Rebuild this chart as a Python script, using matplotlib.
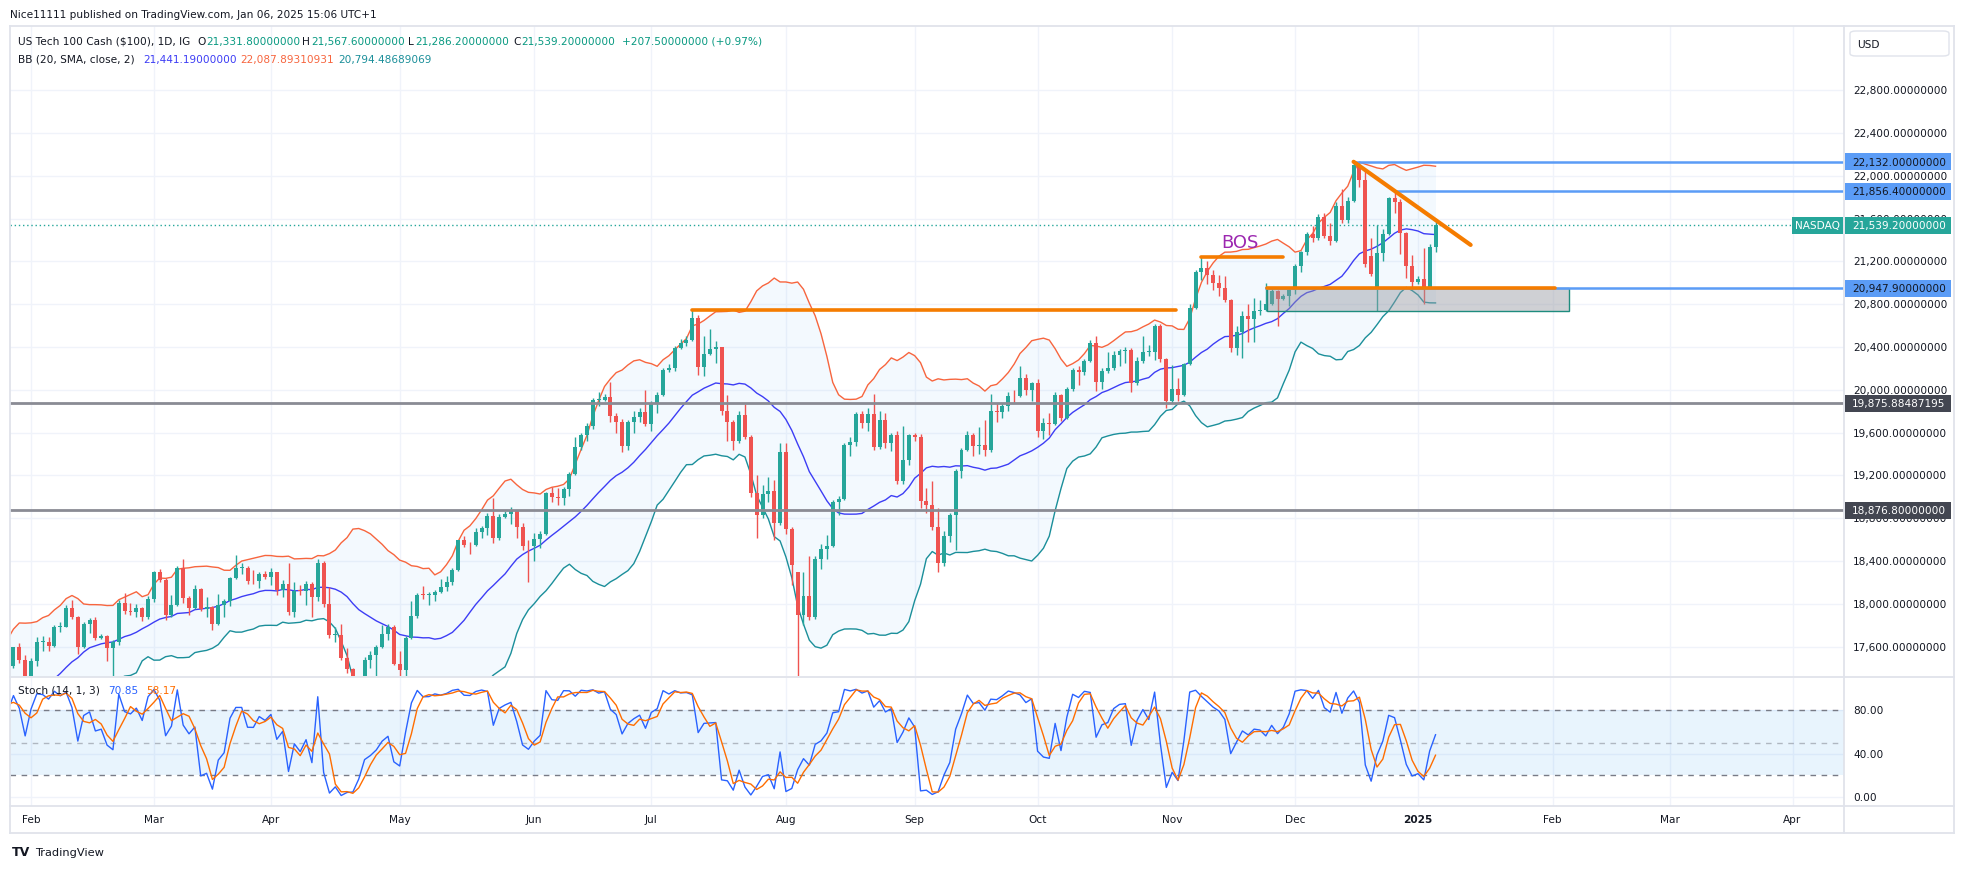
import numpy as np
import pandas as pd
import matplotlib
matplotlib.use('Agg')
import matplotlib.pyplot as plt
from matplotlib.patches import Rectangle, FancyBboxPatch
from matplotlib.lines import Line2D

plt.rcParams['font.family'] = ['DejaVu Sans']

# daily bars, US Tech 100 Cash (IG), 26 Dec 2023 .. 06 Jan 2025
closed_days = ['2024-03-29', '2024-12-25']
dates = pd.bdate_range('2023-12-26', '2025-01-06')
dates = dates[~dates.isin(pd.to_datetime(closed_days))]

opens = [
    16790, 16878, 16906, 16898,
    16826, 16800, 16543, 16368, 16283, 16330, 16624, 16663, 16792, 16822, 16832, 16845, 16838, 16745, 17048, 17314, 17329, 17384, 17499, 17518, 17421, 17596, 17477,
    17220, 17470, 17642, 17643, 17608, 17782, 17784, 17963, 17882, 17600, 17815, 17845, 17685, 17700, 17592, 17640, 18004, 17937, 17921, 17962, 17874,
    18043, 18302, 18224, 17896, 17985, 18339, 18054, 17966, 18137, 17953, 17967, 17808, 17985, 18030, 18240, 18339, 18339, 18211, 18210, 18280,
    18255, 18294, 18133, 18184, 17925, 18124, 18123, 18187, 18064, 18380, 18003, 17707, 17713, 17493, 17395, 17037, 17210, 17471, 17526, 17600, 17718, 17783,
    17441, 17380, 17680, 17891, 18082, 18080, 18083, 18114, 18161, 18208, 18321, 18593, 18550, 18547, 18674, 18713, 18820, 18612, 18808, 18840, 18869, 18720, 18538,
    18537, 18608, 18650, 19035, 19000, 18994, 19074, 19210, 19466, 19580, 19659, 19903, 19908, 19930, 19752, 19700, 19473, 19701, 19751, 19789,
    19683, 19880, 19950, 20186, 20200, 20392, 20439, 20462, 20675, 20211, 20331, 20386, 20397, 19799, 19704, 19523, 19765, 19560, 19033, 18830, 19024, 19059, 18760,
    19420, 18700, 18300, 17895, 18077, 17880, 18420, 18513, 18545, 18956, 18980, 19484, 19509, 19776, 19690, 19775, 19465, 19721, 19507, 19574, 19150, 19343,
    19575, 19560, 18960, 18920, 18720, 18380, 18637, 18829, 19239, 19439, 19580, 19475, 19486, 19438, 19800, 19792, 19852, 19944, 19939, 20113, 20000,
    20060, 19620, 19690, 19680, 19951, 19740, 20010, 20185, 20165, 20272, 20438, 20070, 20180, 20200, 20324, 20361, 20373, 20066, 20270, 20352, 20352, 20600, 20290,
    19900, 20010, 19950, 20240, 20770, 21102, 21140, 21070, 21000, 20950, 20840, 20395, 20545, 20690, 20660, 20740, 20744, 20800, 20922, 20850, 20880,
    20930, 21160, 21290, 21460, 21420, 21620, 21440, 21390, 21720, 21590, 21770, 22100, 21960, 21250, 20950, 21280, 21460, 21790, 21760, 21470, 21160,
    21010, 21040, 20960, 21331.8,
]
highs = [
    16904, 16930, 16945, 16935,
    16860, 16820, 16560, 16480, 16420, 16630, 16690, 16810, 16900, 16900, 16870, 16880, 16850, 17060, 17330, 17420, 17410, 17660, 17580, 17540, 17600, 17630, 17520,
    17490, 17690, 17700, 17690, 17800, 17830, 17990, 18040, 17890, 17830, 17870, 17880, 17720, 17710, 17660, 18040, 18100, 18010, 18000, 17970, 18070,
    18310, 18330, 18240, 18080, 18350, 18420, 18070, 18180, 18150, 18060, 17980, 18090, 18050, 18250, 18460, 18380, 18350, 18320, 18300, 18310,
    18340, 18300, 18220, 18380, 18200, 18180, 18210, 18200, 18420, 18400, 18160, 17780, 17810, 17590, 17400, 17310, 17500, 17560, 17620, 17800, 17810, 17800,
    17560, 17700, 18030, 18100, 18170, 18110, 18130, 18230, 18260, 18340, 18600, 18630, 18580, 18710, 18730, 18850, 18990, 18840, 18870, 18910, 18880, 18760, 18600,
    18660, 18680, 19050, 19090, 19080, 19090, 19230, 19560, 19600, 19690, 19920, 19980, 19960, 20070, 19780, 19730, 19720, 19800, 19830, 20000,
    19900, 19980, 20200, 20240, 20410, 20480, 20500, 20750, 20700, 20500, 20570, 20460, 20400, 19950, 19720, 19800, 19870, 19580, 19200, 19110, 19190, 19160, 19500,
    19500, 18720, 18300, 18300, 18450, 18450, 18560, 18640, 18970, 19010, 19500, 19560, 19790, 19800, 19830, 19960, 19800, 19780, 19600, 19620, 19660, 19590,
    19600, 19590, 19080, 19150, 18900, 18680, 18850, 19260, 19460, 19620, 19600, 19650, 19720, 19960, 19880, 19880, 19980, 20000, 20220, 20150, 20070,
    20100, 19740, 19780, 19980, 19960, 20030, 20200, 20220, 20290, 20470, 20500, 20200, 20350, 20360, 20380, 20400, 20390, 20310, 20500, 20420, 20620, 20620, 20300,
    20230, 20110, 20250, 20800, 21120, 21240, 21200, 21120, 21070, 21060, 20850, 20600, 20740, 20800, 20860, 20840, 21000, 20960, 20930, 20900, 20960,
    21180, 21300, 21480, 21530, 21640, 21650, 21560, 21760, 21880, 21800, 22132, 22130, 22060, 21420, 21540, 21500, 21800, 21856.4, 21780, 21480, 21260,
    21060, 21330, 21360, 21567.6,
]
lows = [
    16784, 16840, 16870, 16760,
    16815, 16480, 16350, 16270, 16240, 16310, 16520, 16650, 16700, 16790, 16820, 16740, 16650, 16740, 17040, 17280, 17300, 17380, 17420, 17400, 17400, 17450, 17130,
    17180, 17420, 17560, 17560, 17600, 17740, 17780, 17860, 17530, 17590, 17730, 17660, 17670, 17470, 17330, 17620, 17910, 17900, 17880, 17840, 17860,
    18020, 18200, 17850, 17880, 17980, 18010, 17900, 17950, 17930, 17880, 17760, 17800, 17880, 17980, 18230, 18280, 18190, 18190, 18150, 18230,
    18180, 18080, 18060, 17900, 17880, 18080, 17990, 17880, 18030, 17970, 17680, 17640, 17480, 17350, 16970, 17000, 17200, 17400, 17070, 17590, 17660, 17430,
    17300, 17330, 17670, 17870, 18050, 17990, 18030, 18100, 18120, 18180, 18310, 18530, 18470, 18540, 18620, 18640, 18570, 18600, 18800, 18750, 18620, 18500, 18200,
    18400, 18520, 18640, 18950, 18920, 18920, 19010, 19200, 19440, 19520, 19630, 19850, 19900, 19700, 19600, 19420, 19440, 19600, 19700, 19660,
    19620, 19780, 19940, 20170, 20180, 20380, 20410, 20460, 20140, 20130, 20330, 20250, 19770, 19520, 19440, 19500, 19540, 19000, 18620, 18800, 18950, 18600, 18740,
    18650, 18180, 17050, 17800, 17850, 17860, 18330, 18420, 18530, 18830, 18970, 19380, 19480, 19640, 19620, 19440, 19450, 19460, 19430, 19120, 19120, 19300,
    19520, 18900, 18850, 18690, 18300, 18350, 18580, 18500, 19180, 19430, 19380, 19400, 19380, 19420, 19700, 19740, 19800, 19880, 19930, 19950, 19900,
    19560, 19540, 19580, 19670, 19710, 19730, 19990, 20050, 20140, 20260, 19990, 20010, 20160, 20190, 20220, 20250, 19980, 20050, 20250, 20320, 20280, 20260, 19830,
    19880, 19900, 19940, 20230, 20760, 21030, 20990, 20930, 20880, 20820, 20350, 20330, 20300, 20450, 20450, 20700, 20740, 20790, 20600, 20840, 20780,
    20900, 21100, 21260, 21380, 21400, 21420, 21350, 21380, 21560, 21560, 21760, 21900, 21150, 21060, 20740, 21200, 21450, 21650, 21270, 21050, 20950,
    20990, 20800, 20950, 21286.2,
]
closes = [
    16878, 16906, 16898, 16826,
    16850, 16543, 16368, 16283, 16306, 16624, 16663, 16792, 16822, 16832, 16845, 16838, 16745, 17048, 17314, 17329, 17384, 17499, 17518, 17421, 17596, 17477, 17220,
    17470, 17642, 17643, 17608, 17782, 17784, 17963, 17882, 17600, 17815, 17845, 17685, 17700, 17592, 17640, 18004, 17937, 17921, 17962, 17874, 18043,
    18302, 18224, 17896, 17985, 18339, 18054, 17966, 18137, 17953, 17967, 17808, 17985, 18030, 18240, 18339, 18339, 18211, 18210, 18280, 18255,
    18294, 18133, 18184, 17925, 18124, 18123, 18187, 18064, 18380, 18003, 17707, 17713, 17493, 17395, 17037, 17210, 17471, 17526, 17600, 17718, 17783, 17441,
    17380, 17680, 17891, 18082, 18080, 18083, 18114, 18161, 18208, 18321, 18593, 18550, 18547, 18674, 18713, 18820, 18612, 18808, 18840, 18869, 18720, 18538, 18537,
    18608, 18650, 19035, 19000, 18994, 19074, 19210, 19466, 19580, 19659, 19903, 19908, 19930, 19752, 19700, 19473, 19701, 19751, 19789, 19683,
    19880, 19950, 20186, 20200, 20392, 20439, 20462, 20675, 20211, 20331, 20386, 20397, 19799, 19704, 19523, 19765, 19560, 19033, 18830, 19024, 19059, 18760, 19420,
    18700, 18360, 17895, 18077, 17880, 18420, 18513, 18545, 18956, 18980, 19484, 19509, 19776, 19690, 19775, 19465, 19721, 19507, 19574, 19150, 19343, 19575,
    19560, 18960, 18920, 18720, 18380, 18637, 18829, 19239, 19439, 19580, 19475, 19486, 19438, 19800, 19792, 19852, 19944, 19939, 20113, 20000, 20060,
    19620, 19690, 19680, 19951, 19740, 20010, 20185, 20165, 20272, 20438, 20070, 20180, 20200, 20324, 20361, 20373, 20066, 20270, 20352, 20352, 20600, 20290, 19900,
    20010, 19950, 20240, 20770, 21102, 21140, 21070, 21000, 20950, 20840, 20395, 20545, 20690, 20660, 20740, 20744, 20800, 20922, 20850, 20880, 20930,
    21160, 21290, 21460, 21420, 21620, 21440, 21390, 21720, 21590, 21770, 22100, 21960, 21180, 21080, 21280, 21460, 21790, 21760, 21470, 21160, 21010,
    21040, 20960, 21331.7, 21539.2,
]

month_dates = ['2024-02-01', '2024-03-01', '2024-04-01', '2024-05-01', '2024-06-03', '2024-07-01', '2024-08-01',
               '2024-09-02', '2024-10-01', '2024-11-01', '2024-12-02', '2025-01-01', '2025-02-03', '2025-03-03', '2025-04-01']
month_labels = ['Feb', 'Mar', 'Apr', 'May', 'Jun', 'Jul', 'Aug', 'Sep', 'Oct', 'Nov', 'Dec', '2025', 'Feb', 'Mar', 'Apr']

price_ticks = [17600, 18000, 18400, 18800, 19200, 19600, 20000, 20400, 20800, 21200, 21600, 22000, 22400, 22800]
stoch_ticks = [0, 40, 80]

# horizontal levels drawn on the chart
gray_levels = [19875.88487195, 18876.8]
blue_levels = [22132.0, 21856.4, 20947.9]
last_price = 21539.2
jul_high = 20750
bos_level = 21240
zone_low, zone_high = 20740, 20947.9
trend_start = ('2024-12-16', 22132.0)
trend_end = ('2025-01-14', 21355.0)

# ---------------------------------------------------------------
W, H = 1964, 870
fig = plt.figure(figsize=(W / 100, H / 100), dpi=100)
fig.patch.set_facecolor('white')

def fx(px):
    return px / W

def fy(py):
    return 1 - py / H

all_dates = dates.append(pd.bdate_range('2025-01-07', '2025-04-30'))

def xi(d):
    return all_dates.get_loc(pd.Timestamp(d))

feb1 = xi('2024-02-01')
X0, X1 = feb1 - 3.59, feb1 + 309.8
P_LO, P_HI = 17326, 23401
S_LO, S_HI = -8.3, 109.9

ax = fig.add_axes([fx(10), fy(677), fx(1844) - fx(10), fy(27) - fy(677)])
ax2 = fig.add_axes([fx(10), fy(807), fx(1844) - fx(10), fy(679) - fy(807)])
for a in (ax, ax2):
    a.set_xlim(X0, X1)
    a.set_xticks([])
    a.set_yticks([])
    for s in a.spines.values():
        s.set_visible(False)
ax.set_ylim(P_LO, P_HI)
ax2.set_ylim(S_LO, S_HI)

o = np.array(opens, float)
h = np.array(highs, float)
l = np.array(lows, float)
c = np.array(closes, float)
x = np.arange(len(c))

# grid
tick_x = [xi(d) for d in month_dates]
for a in (ax, ax2):
    for t in tick_x:
        a.axvline(t, color='#f0f3fa', lw=1, zorder=0)
for p in price_ticks:
    ax.axhline(p, color='#f0f3fa', lw=1, zorder=0)
for s in stoch_ticks:
    ax2.axhline(s, color='#f0f3fa', lw=1, zorder=0)

# bollinger bands
cs = pd.Series(c)
basis = cs.rolling(20).mean()
dev = cs.rolling(20).std(ddof=0)
upper = basis + 2 * dev
lower = basis - 2 * dev
ax.fill_between(x, upper, lower, color='#2196f3', alpha=0.05, lw=0, zorder=1)
ax.plot(x, upper, color='#f7653e', lw=1, zorder=2)
ax.plot(x, lower, color='#1b8f9a', lw=1, zorder=2)
ax.plot(x, basis, color='#3d3df5', lw=1, zorder=2)

# candles
up = c >= o
col = np.where(up, '#26a69a', '#ef5350')
ax.vlines(x, l, h, colors=col, lw=1, zorder=3)
body = np.maximum(np.abs(c - o), 8)
ax.bar(x, body, bottom=np.minimum(o, c), width=0.68, color=col, lw=0, zorder=4)

# levels and drawings
ax.axhline(last_price, color='#26a69a', lw=1, ls=(0, (1, 2)), zorder=2)
for lv in gray_levels:
    ax.axhline(lv, color='#8a8b94', lw=2.0, zorder=5)
ax.plot([xi('2024-12-16'), X1], [blue_levels[0]] * 2, color='#5b9cf6', lw=1.8, zorder=5)
ax.plot([xi('2024-12-26'), X1], [blue_levels[1]] * 2, color='#5b9cf6', lw=1.8, zorder=5)
ax.plot([xi('2024-11-25'), X1], [blue_levels[2]] * 2, color='#5b9cf6', lw=1.8, zorder=5)

zx0 = xi('2024-11-25') + 0.2
zx1 = xi('2025-02-05') + 0.8
ax.add_patch(Rectangle((zx0, zone_low), zx1 - zx0, zone_high - zone_low, fc='#9598a1', alpha=0.45, ec='none', zorder=4.5))
ax.add_patch(Rectangle((zx0, zone_low), zx1 - zx0, zone_high - zone_low, fc='none', ec='#1e8c7e', lw=1, zorder=4.6))

orange = '#f57c00'
ax.plot([xi('2024-07-10'), xi('2024-11-04') - 0.3], [jul_high] * 2, color=orange, lw=2.6, solid_capstyle='round', zorder=6)
ax.plot([xi('2024-11-08'), xi('2024-11-28')], [bos_level] * 2, color=orange, lw=2.6, solid_capstyle='round', zorder=6)
ax.plot([zx0, xi('2025-02-03') + 0.4], [zone_high] * 2, color=orange, lw=2.6, solid_capstyle='round', zorder=6)
ax.plot([xi(trend_start[0]), xi(trend_end[0])], [trend_start[1], trend_end[1]], color=orange, lw=3.0,
        solid_capstyle='round', zorder=6)
ax.text(xi('2024-11-15') + 1.6, 21382, 'BOS', color='#9c27b0', fontsize=13, ha='center', va='center', zorder=7)

# stochastic
hh = pd.Series(h).rolling(14).max()
ll = pd.Series(l).rolling(14).min()
k = 100 * (cs - ll) / (hh - ll)
d = k.rolling(3).mean()
ax2.axhspan(20, 80, color='#2196f3', alpha=0.1, lw=0, zorder=0.5)
ax2.axhline(80, color='#787b86', lw=1, ls=(0, (4, 4)), zorder=1)
ax2.axhline(50, color='#787b86', lw=1, ls=(0, (4, 4)), alpha=0.5, zorder=1)
ax2.axhline(20, color='#787b86', lw=1, ls=(0, (4, 4)), zorder=1)
ax2.plot(x, k, color='#2962ff', lw=1, zorder=3)
ax2.plot(x, d, color='#ff6d00', lw=1, zorder=3)

# ---------------------------------------------------------------
# price scale
def py_fig(p):
    return fy(677) + (p - P_LO) / (P_HI - P_LO) * (fy(27) - fy(677))

def sy_fig(s):
    return fy(807) + (s - S_LO) / (S_HI - S_LO) * (fy(679) - fy(807))

txt = '#131722'
fs = 7.6
for p in price_ticks:
    fig.text(fx(1853), py_fig(p), f'{p:,.8f}', fontsize=fs, color=txt, va='center', ha='left', zorder=3)
for s in stoch_ticks:
    fig.text(fx(1853), sy_fig(s), f'{s:.2f}', fontsize=fs, color=txt, va='center', ha='left', zorder=3)

price_boxes = [
    (22132.0, '22,132.00000000', '#5b9cf6', txt),
    (21856.4, '21,856.40000000', '#5b9cf6', txt),
    (21539.2, '21,539.20000000', '#26a69a', 'white'),
    (20947.9, '20,947.90000000', '#5b9cf6', txt),
    (19875.88487195, '19,875.88487195', '#434651', 'white'),
    (18876.8, '18,876.80000000', '#434651', 'white'),
]
for p, label, fc, tc in price_boxes:
    yc = py_fig(p)
    fig.patches.append(Rectangle((fx(1845), yc - 8.5 / H), fx(1951) - fx(1845), 17 / H,
                                 transform=fig.transFigure, fc=fc, ec='none', zorder=5))
    fig.text(fx(1852), yc, label, fontsize=fs, color=tc, va='center', ha='left', zorder=6)

yc = py_fig(last_price)
fig.patches.append(Rectangle((fx(1792), yc - 8.5 / H), fx(1843) - fx(1792), 17 / H,
                             transform=fig.transFigure, fc='#26a69a', ec='none', zorder=5))
fig.text(fx(1817.5), yc, 'NASDAQ', fontsize=fs, color='white', va='center', ha='center', zorder=6)

fig.patches.append(FancyBboxPatch((fx(1850), fy(57)), fx(1949) - fx(1850), 25 / H, boxstyle='round,pad=0,rounding_size=0.003',
                                  transform=fig.transFigure, fc='white', ec='#e0e3eb', lw=1, zorder=5))
fig.text(fx(1857), fy(44.5), 'USD', fontsize=fs, color=txt, va='center', ha='left', zorder=6)

# time scale
for t, lab in zip(tick_x, month_labels):
    xf = fx(10) + (t - X0) / (X1 - X0) * (fx(1844) - fx(10))
    fig.text(xf, fy(820), lab, fontsize=fs, color=txt, ha='center', va='center',
             fontweight='bold' if lab == '2025' else 'normal')

# frame
border = '#e0e3eb'
segs = [((10, 27), (1954, 27)), ((10, 678), (1954, 678)), ((10, 807), (1954, 807)), ((10, 834), (1954, 834)),
        ((10, 27), (10, 834)), ((1844, 27), (1844, 834)), ((1954, 27), (1954, 834))]
for (xa, ya), (xb, yb) in segs:
    fig.lines.append(Line2D([fx(xa), fx(xb)], [fy(ya), fy(yb)], transform=fig.transFigure, color=border, lw=1.3))

# legends
fig.text(fx(10), fy(15), 'Nice11111 published on TradingView.com, Jan 06, 2025 15:06 UTC+1', fontsize=fs, color=txt, va='center')
green = '#089981'
row1 = [(18, 'US Tech 100 Cash ($100), 1D, IG', txt), (197, 'O', txt), (206, '21,331.80000000', green),
        (302, 'H', txt), (311, '21,567.60000000', green), (408, 'L', txt), (415, '21,286.20000000', green),
        (513, 'C', txt), (521, '21,539.20000000', green), (622, '+207.50000000 (+0.97%)', green)]
for xp, s, cl in row1:
    fig.text(fx(xp), fy(42), s, fontsize=fs, color=cl, va='center')
row2 = [(18, 'BB (20, SMA, close, 2)', txt), (143, '21,441.19000000', '#3d3df5'),
        (240, '22,087.89310931', '#f7653e'), (338, '20,794.48689069', '#1b8f9a')]
for xp, s, cl in row2:
    fig.text(fx(xp), fy(60), s, fontsize=fs, color=cl, va='center')
row3 = [(18, 'Stoch (14, 1, 3)', txt), (108, '70.85', '#2962ff'), (146, '58.17', '#ff6d00')]
for xp, s, cl in row3:
    fig.text(fx(xp), fy(691), s, fontsize=fs, color=cl, va='center')

# footer logo
fig.text(fx(12), fy(853), 'TV', fontsize=9, fontweight='bold', color=txt, va='center')
fig.text(fx(35), fy(853), 'TradingView', fontsize=8.2, color=txt, va='center')

fig.savefig('out.png', dpi=100)
